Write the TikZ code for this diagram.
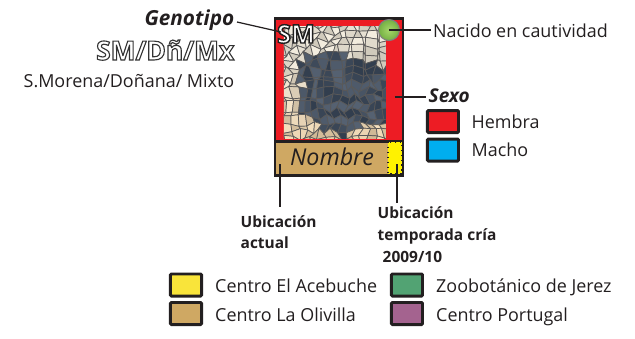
\documentclass[tikz,border=0pt]{standalone}
\usepackage{fontspec}
\setmainfont{Open Sans}
\newcommand{\outlined}[3]{\special{pdf:code q #1 G 2 Tr #2 w}#3\special{pdf:code Q}}
\definecolor{ink}{HTML}{231F20}
\definecolor{hembrared}{HTML}{ED1C24}
\definecolor{machoblue}{HTML}{00AEEF}
\definecolor{acebuche}{HTML}{F9E43A}
\definecolor{olivilla}{HTML}{CFA863}
\definecolor{jerez}{HTML}{52A373}
\definecolor{portugal}{HTML}{A4638F}
\definecolor{markin}{HTML}{A6D66A}
\definecolor{markout}{HTML}{74B043}
\tikzset{
  legbox/.style={draw=ink, line width=0.85pt, rounded corners=0.3pt, inner sep=0pt, minimum width=0.31cm, minimum height=0.22cm},
  legtext/.style={anchor=base west, inner sep=0pt, text=ink, font=\fontsize{5.1}{6}\selectfont},
  boldtext/.style={anchor=base west, inner sep=0pt, text=ink, font=\fontsize{4.4}{6}\selectfont\bfseries},
  leader/.style={draw=ink, line width=0.35pt}
}
\begin{document}
\begin{tikzpicture}[x=0.01cm, y=-0.01cm,
  declare function={jx(\a,\b)=2.8*sin(\a*97+\b*\b*11+\a*\b*19);
                    jy(\a,\b)=2.8*cos(\b*113+\a*\a*13+\a*\b*23);}]
\useasboundingbox (0,0) rectangle (635,338);
% card
\draw[ink, fill=hembrared, line width=0.85pt] (275,18) rectangle (403,141);
% mosaic
\begin{scope}
\clip (284,26) rectangle (386,138);
\foreach \i in {0,...,15}
  \foreach \j in {0,...,17} {
    \pgfmathsetmacro{\cx}{284+7*\i-3.5}
    \pgfmathsetmacro{\cy}{26+7*\j-3.5}
    \pgfmathsetmacro{\blob}{min(((\cx-346)/50)^2+((\cy-95)/37)^2, ((\cx-330)/32)^2+((\cy-72)/20)^2)+0.2*sin(\i*83+\j*59)}
    \pgfmathsetmacro{\noise}{18*sin(\i*\i*11+\j*\j*17+\i*\j*13)}
    \ifdim\blob pt<1pt
      \pgfmathtruncatemacro{\rr}{68+\noise}
      \pgfmathtruncatemacro{\gg}{80+\noise}
      \pgfmathtruncatemacro{\bb}{96+\noise}
    \else
      \pgfmathtruncatemacro{\rr}{226+\noise}
      \pgfmathtruncatemacro{\gg}{220+\noise-0.22*max(\cy-60,0)}
      \pgfmathtruncatemacro{\bb}{206+\noise-0.5*max(\cy-60,0)}
    \fi
    \definecolor{cellcol}{RGB}{\rr,\gg,\bb}
    \draw[fill=cellcol, draw=black!65, line width=0.2pt]
      ({284+7*\i-7+jx(\i,\j)}, {26+7*\j-7+jy(\i,\j)}) --
      ({284+7*\i+jx(\i+1,\j)}, {26+7*\j-7+jy(\i+1,\j)}) --
      ({284+7*\i+jx(\i+1,\j+1)}, {26+7*\j+jy(\i+1,\j+1)}) --
      ({284+7*\i-7+jx(\i,\j+1)}, {26+7*\j+jy(\i,\j+1)}) -- cycle;
  }
\end{scope}
% name bar
\draw[ink, fill=olivilla, line width=0.85pt] (275,141) rectangle (403,175);
\draw[fill=yellow, draw=ink, densely dotted, line width=0.4pt] (388,142) rectangle (402,174);
\node[anchor=base, inner sep=0pt, text=ink, font=\fontsize{6.6}{8}\selectfont\itshape] (nombre) at (332,165) {Nombre};
% cautivity mark
\node[circle, draw=black!50, line width=0.3pt, inner color=markin, outer color=markout, minimum size=0.21cm, inner sep=0pt] (mark) at (389,30) {};
\node[anchor=base, inner sep=0pt, text=white, font=\fontsize{7.2}{8}\selectfont\bfseries] (sm) at (296,43) {\outlined{0.12}{0.4}{SM}};
% labels on the left
\node[anchor=base east, inner sep=0pt, text=ink, font=\fontsize{5.9}{7}\selectfont\bfseries\itshape] (genotipo) at (235,25) {Genotipo};
\node[anchor=base east, inner sep=0pt, text=white, font=\fontsize{7.5}{8}\selectfont\bfseries] (genes) at (235,60) {\outlined{0.2}{0.32}{SM/Dñ/Mx}};
\node[legtext, anchor=base east] (razas) at (235,87) {S.Morena/Doñana/ Mixto};
% labels on the right
\node[legtext] (nacido) at (432.5,37) {Nacido en cautividad};
\node[boldtext, font=\fontsize{5.4}{6}\selectfont\bfseries\itshape] (sexo) at (428,102) {Sexo};
\foreach \y/\col/\txt/\nm in {121.5/hembrared/Hembra/hembra, 150/machoblue/Macho/macho}
  {\node[legbox, fill=\col] (\nm box) at (443,\y) {};
   \node[legtext] (\nm) at (471,\y+6.5) {\txt};};
% centres
\foreach \x/\y/\col/\txt/\nm in {186/285/acebuche/Centro El Acebuche/ace, 186/313.5/olivilla/Centro La Olivilla/oli}
  {\node[legbox, fill=\col] (\nm box) at (\x,\y) {};
   \node[legtext] (\nm) at (214.5,\y+7.5) {\txt};};
\foreach \x/\y/\col/\txt/\nm in {407/285/jerez/Zoobotánico de Jerez/jer, 407/313.5/portugal/Centro Portugal/por}
  {\node[legbox, fill=\col] (\nm box) at (\x,\y) {};
   \node[legtext] (\nm) at (435.5,\y+7.5) {\txt};};
% location labels
\node[boldtext] (actual) at (240,227) {Ubicación};
\node[boldtext] (actual2) at (240,248) {actual};
\node[boldtext] (cria) at (377,218) {Ubicación};
\node[boldtext] (cria2) at (377,240) {temporada cría};
\node[boldtext] (cria3) at (382,262) {2009/10};
% leaders
\coordinate (smend) at (281,32);
\coordinate (genoend) at (237,22);
\coordinate (sexoin) at (395,97);
\coordinate (sexoout) at (426,97);
\coordinate (nacidoout) at (431,30);
\coordinate (bar1) at (280,164);
\coordinate (bar1end) at (280,207);
\coordinate (bar2) at (397,164);
\coordinate (bar2end) at (397,203);
\draw[leader] (genoend) -- (smend);
\draw[leader] (mark.center) -- (nacidoout);
\draw[leader] (sexoin) -- (sexoout);
\draw[leader] (bar1) -- (bar1end);
\draw[leader] (bar2) -- (bar2end);
\end{tikzpicture}
\end{document}
